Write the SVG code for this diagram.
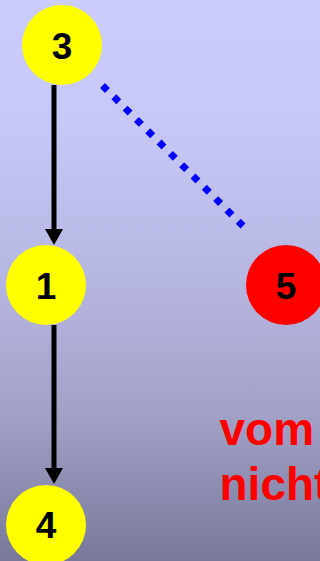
<svg xmlns="http://www.w3.org/2000/svg" width="320" height="561" viewBox="0 0 320 561">
  <defs>
    <linearGradient id="bg" x1="0" y1="0" x2="0" y2="1">
      <stop offset="0" stop-color="#ccccfc"/>
      <stop offset="0.22" stop-color="#c8c8f8"/>
      <stop offset="0.5" stop-color="#b6b6e2"/>
      <stop offset="0.75" stop-color="#a0a0c6"/>
      <stop offset="1" stop-color="#78789a"/>
    </linearGradient>
    <marker id="arrow" markerUnits="userSpaceOnUse" markerWidth="16" markerHeight="18" refX="0" refY="9" orient="auto" viewBox="0 0 16 18">
      <path d="M0,0 L16,9 L0,18 Z" fill="#000000"/>
    </marker>
    <style>
      .yellow { fill: #ffff00; }
      .red { fill: #ff0000; }
      .num { font-family: "Liberation Sans", Arial, sans-serif; font-weight: bold; font-size: 37px; fill: #000000; text-anchor: middle; }
      .edge { stroke: #000000; stroke-width: 5; fill: none; marker-end: url(#arrow); }
      .dotted { stroke: #0000ff; stroke-width: 7; stroke-dasharray: 7 9; fill: none; }
      .note { font-family: "Liberation Sans", Arial, sans-serif; font-weight: bold; font-size: 46px; fill: #ff0000; }
    </style>
  </defs>
  <rect x="0" y="0" width="320" height="561" fill="url(#bg)"/>
  <g id="connectors">
    <line class="edge" x1="54" y1="85" x2="54" y2="229"/>
    <line class="edge" x1="54" y1="325" x2="54" y2="468"/>
    <line class="dotted" x1="102.5" y1="85.5" x2="243" y2="226"/>
  </g>
  <g id="node3">
    <circle class="yellow" cx="62" cy="45" r="40"/>
    <text class="num" x="62" y="58.5">3</text>
  </g>
  <g id="node1">
    <circle class="yellow" cx="46" cy="285" r="40"/>
    <text class="num" x="46" y="298.5">1</text>
  </g>
  <g id="node5">
    <circle class="red" cx="286" cy="285" r="40"/>
    <text class="num" x="286" y="298.5">5</text>
  </g>
  <g id="node4">
    <circle class="yellow" cx="46" cy="525" r="40"/>
    <text class="num" x="46" y="538">4</text>
  </g>
  <g id="note">
    <text class="note" x="219.5" y="445">vom</text>
    <text class="note" x="219.5" y="500">nicht</text>
  </g>
</svg>
